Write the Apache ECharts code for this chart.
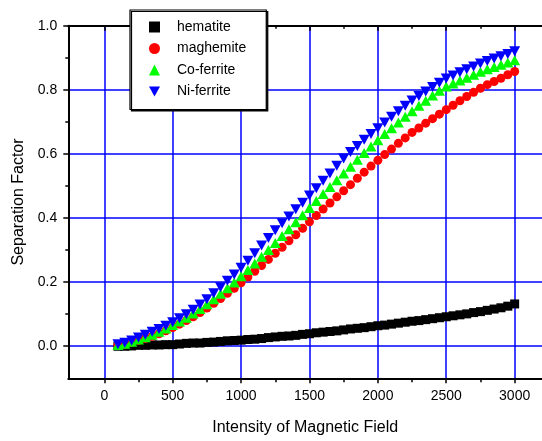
<!DOCTYPE html>
<html>
<head>
<meta charset="utf-8">
<script src="https://cdn.jsdelivr.net/npm/echarts@6/dist/echarts.min.js"></script>
<style>
html,body{margin:0;padding:0;background:#fff;}
#chart{width:542px;height:441px;}
</style>
</head>
<body>
<div id="chart"></div>
<script>
// ---- data ----
var fieldValues = [100,150,200,250,300,350,400,450,500,550,600,650,700,750,800,850,900,950,1000,
  1050,1100,1150,1200,1250,1300,1350,1400,1450,1500,1550,1600,1650,1700,1750,1800,1850,1900,1950,2000,
  2050,2100,2150,2200,2250,2300,2350,2400,2450,2500,2550,2600,2650,2700,2750,2800,2850,2900,2950,3000];
var hematite = [0.000,0.000,0.001,0.003,0.003,0.004,0.004,0.005,0.005,0.007,0.009,0.010,0.010,0.012,0.013,0.015,0.017,0.018,0.019,
  0.021,0.022,0.024,0.027,0.029,0.031,0.032,0.034,0.037,0.039,0.042,0.044,0.046,0.048,0.051,0.054,0.056,0.058,0.061,0.064,
  0.066,0.069,0.072,0.075,0.078,0.080,0.083,0.086,0.089,0.092,0.095,0.098,0.101,0.105,0.108,0.112,0.116,0.120,0.125,0.132];
var maghemite = [0.003,0.006,0.012,0.018,0.024,0.031,0.039,0.048,0.058,0.069,0.080,0.092,0.105,0.119,0.134,0.149,0.165,0.181,0.198,
  0.216,0.234,0.252,0.271,0.290,0.309,0.329,0.348,0.368,0.388,0.408,0.428,0.447,0.466,0.485,0.504,0.524,0.543,0.562,0.580,
  0.598,0.615,0.633,0.650,0.667,0.681,0.696,0.710,0.724,0.738,0.752,0.766,0.779,0.792,0.805,0.816,0.826,0.836,0.847,0.857];
var coFerrite = [0.004,0.008,0.014,0.021,0.028,0.036,0.045,0.055,0.066,0.077,0.089,0.102,0.116,0.131,0.147,0.164,0.181,0.199,0.218,
  0.238,0.258,0.279,0.300,0.322,0.344,0.365,0.387,0.409,0.431,0.453,0.475,0.497,0.518,0.539,0.560,0.582,0.603,0.623,0.643,
  0.662,0.680,0.698,0.716,0.733,0.750,0.766,0.782,0.797,0.810,0.820,0.829,0.838,0.847,0.856,0.864,0.871,0.878,0.885,0.892];
var niFerrite = [0.006,0.011,0.018,0.027,0.036,0.045,0.054,0.064,0.075,0.087,0.100,0.114,0.130,0.147,0.165,0.184,0.204,0.224,0.245,
  0.267,0.290,0.314,0.338,0.362,0.384,0.405,0.427,0.448,0.470,0.493,0.516,0.539,0.563,0.586,0.606,0.625,0.644,0.662,0.680,
  0.698,0.716,0.733,0.750,0.767,0.781,0.795,0.809,0.822,0.835,0.845,0.855,0.864,0.873,0.882,0.890,0.898,0.905,0.912,0.920];
var seriesNames = ['hematite','maghemite','Co-ferrite','Ni-ferrite'];
var xTicks = [0,500,1000,1500,2000,2500,3000];
var xMinorTicks = [250,750,1250,1750,2250,2750];
var yTicks = [0.0,0.2,0.4,0.6,0.8,1.0];
var yMinorTicks = [0.1,0.3,0.5,0.7,0.9];
var xTitle = 'Intensity of Magnetic Field';
var yTitle = 'Separation Factor';

function pairs(ys){ return fieldValues.map(function(x,i){ return [x, ys[i]]; }); }

var FONT = "'Liberation Sans', Arial, sans-serif";
var XMIN = -263, XMAX = 3200, YMIN = -0.1, YMAX = 1.0;
var INV_TRI = 'path://M0,0L10,0L5,9Z';

var chart = echarts.init(document.getElementById('chart'), null, {renderer:'canvas'});
function xAx(pos, ticks, len, inside, main){
  return {
    type:'value', position:pos, min:XMIN, max:XMAX, gridIndex:0,
    axisLine:{show:!!main, onZero:false, lineStyle:{color:'#000', width:2}},
    axisTick:{show:true, customValues:ticks, length:len, inside:inside, lineStyle:{color:'#000', width:1.5}},
    axisLabel:{show:false},
    splitLine:{show:false},
    minorTick:{show:false}, minorSplitLine:{show:false}
  };
}
function yAx(ticks, len, main){
  return {
    type:'value', position:'left', min:YMIN, max:YMAX, gridIndex:0,
    axisLine:{show:!!main, onZero:false, lineStyle:{color:'#000', width:2}},
    axisTick:{show:true, customValues:ticks, length:len, inside:false, lineStyle:{color:'#000', width:1.5}},
    axisLabel:{show:false},
    splitLine:{show:false},
    minorTick:{show:false}
  };
}
var xMain = xAx('bottom', xTicks, 5, false, true);
xMain.axisLabel = {show:true, customValues:xTicks, margin:11, color:'#000', fontSize:14, fontFamily:FONT,
  formatter:function(v){ return String(v); }};
xMain.splitLine = {show:true, lineStyle:{color:'#0000ff', width:1.5}};
xMain.name = xTitle; xMain.nameLocation = 'middle'; xMain.nameGap = 41;
xMain.nameTextStyle = {color:'#000', fontSize:16, fontFamily:FONT};

var yMain = yAx(yTicks, 5, true);
yMain.axisLabel = {show:true, customValues:yTicks, margin:11, color:'#000', fontSize:14, fontFamily:FONT,
  formatter:function(v){ return v.toFixed(1); }};
yMain.splitLine = {show:true, lineStyle:{color:'#0000ff', width:1.5}};
yMain.name = yTitle; yMain.nameLocation = 'middle'; yMain.nameGap = 40;
yMain.nameTextStyle = {color:'#000', fontSize:16, fontFamily:FONT, padding:[0,0,0,0]};

var option = {
  animation:false,
  backgroundColor:'#fff',
  grid:{left:68.3, top:25.7, right:0, bottom:62.7, containLabel:false},
  xAxis:[
    xMain,
    xAx('bottom', xMinorTicks, 4, false, false),
    xAx('top', xTicks, 5, true, true),
    xAx('top', xMinorTicks, 3, true, false)
  ],
  yAxis:[
    yMain,
    yAx(yMinorTicks, 3, false)
  ],
  legend:{
    orient:'vertical', left:130, top:10,
    padding:[10,20,11,19], itemGap:7.5,
    itemWidth:11, itemHeight:11,
    backgroundColor:'#fff', borderColor:'#000', borderWidth:1.2,
    shadowColor:'#000', shadowOffsetX:1.5, shadowOffsetY:1.5, shadowBlur:0,
    textStyle:{color:'#000', fontSize:14, fontFamily:FONT, padding:[0,0,0,12]},
    data:[
      {name:seriesNames[0], icon:'rect'},
      {name:seriesNames[1], icon:'circle'},
      {name:seriesNames[2], icon:'triangle'},
      {name:seriesNames[3], icon:INV_TRI}
    ]
  },
  series:[
    {name:seriesNames[0], type:'scatter', xAxisIndex:0, yAxisIndex:0, symbol:'rect', symbolSize:9,
      itemStyle:{color:'#000', opacity:1}, data:pairs(hematite)},
    {name:seriesNames[1], type:'scatter', xAxisIndex:0, yAxisIndex:0, symbol:'circle', symbolSize:9,
      itemStyle:{color:'#ff0000', opacity:1}, data:pairs(maghemite)},
    {name:seriesNames[2], type:'scatter', xAxisIndex:0, yAxisIndex:0, symbol:'triangle', symbolSize:[11,10],
      itemStyle:{color:'#00ff00', opacity:1}, data:pairs(coFerrite)},
    {name:seriesNames[3], type:'scatter', xAxisIndex:0, yAxisIndex:0, symbol:INV_TRI, symbolSize:[11,10],
      itemStyle:{color:'#0000ff', opacity:1}, data:pairs(niFerrite)}
  ]
};
chart.setOption(option);
</script>
</body>
</html>
